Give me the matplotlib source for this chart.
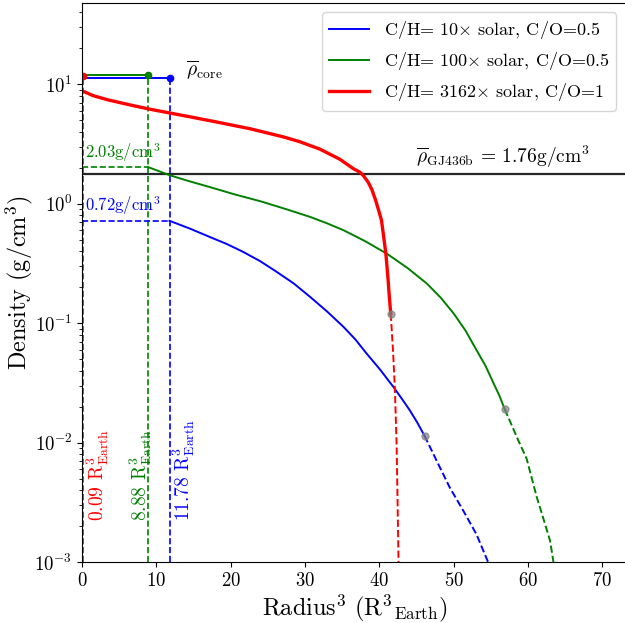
import numpy as np
import matplotlib
matplotlib.use("Agg")
import matplotlib.pyplot as plt

plt.rcParams["font.family"] = "serif"
plt.rcParams["font.serif"] = ["cmr10"]
plt.rcParams["mathtext.fontset"] = "cm"
plt.rcParams["axes.formatter.use_mathtext"] = True
plt.rcParams["axes.unicode_minus"] = False

# core: R^3 (R_earth^3) and mean core density (g/cm^3)
core_r3 = {"blue": 11.78, "green": 8.88, "red": 0.09}
core_rho = {"blue": 11.4, "green": 12.0, "red": 11.8}
# density at the core/envelope boundary
top_rho = {"blue": 0.72, "green": 2.03}
rho_gj436b = 1.76

# envelope profiles, solid part
blue_x = [11.78, 14.5, 17.2, 19.5, 21.7, 24.0, 26.2, 28.5, 30.7, 33.0, 35.2, 36.8,
          38.3, 40.1, 41.9, 43.0, 44.1, 45.1, 46.1]
blue_y = [0.72, 0.62, 0.527, 0.46, 0.395, 0.33, 0.269, 0.215, 0.166, 0.125, 0.093, 0.073,
          0.0557, 0.041, 0.0293, 0.0235, 0.0187, 0.0148, 0.0114]
green_x = [8.88, 11.84, 14.5, 17.2, 20.5, 24.0, 27.5, 30.7, 33.0, 35.2, 38.0, 41.0,
           43.8, 46.4, 48.3, 50.0, 51.6, 53.1, 54.3, 55.4, 56.2, 56.9]
green_y = [2.03, 1.73, 1.54, 1.38, 1.2, 1.05, 0.9, 0.776, 0.685, 0.60, 0.49, 0.383,
           0.29, 0.215, 0.163, 0.121, 0.087, 0.0594, 0.044, 0.0313, 0.0245, 0.019]
red_x = [0.09, 1.5, 3.5, 6.86, 9.15, 11.84, 14.5, 18.1, 22.6, 27.1, 29.3, 32.0, 34.7,
         36.5, 37.4, 37.9, 38.5, 39.0, 39.5, 39.9, 40.3, 40.55, 40.9, 41.2, 41.35, 41.55]
red_y = [8.79, 8.04, 7.41, 6.64, 6.19, 5.75, 5.35, 4.84, 4.25, 3.63, 3.31, 2.87, 2.36,
         1.97, 1.84, 1.71, 1.52, 1.32, 1.08, 0.89, 0.73, 0.56, 0.38, 0.23, 0.17, 0.12]

# extrapolated outer part (dashed)
blue_xd = [46.1, 47.8, 49.5, 51.3, 53.1, 54.65]
blue_yd = [0.0114, 0.0069, 0.0042, 0.0027, 0.0017, 0.001]
green_xd = [56.9, 58.7, 59.85, 61.2, 62.2, 63.0, 63.45]
green_yd = [0.019, 0.0105, 0.0073, 0.0035, 0.0022, 0.0015, 0.001]
red_xd = [41.55, 41.85, 42.1, 42.35, 42.6]
red_yd = [0.12, 0.06, 0.0293, 0.0092, 0.001]

labels = {"blue": r"C/H= 10$\times$ solar, C/O=0.5",
          "green": r"C/H= 100$\times$ solar, C/O=0.5",
          "red": r"C/H= 3162$\times$ solar, C/O=1"}

ymin, ymax = 1e-3, 48
xmax = 73.5

fig = plt.figure(figsize=(6.25, 6.23), dpi=100)
ax = fig.add_axes([0.1312, 0.0979, 0.8738, 0.8973])
ax.set_yscale("log")

ax.axhline(rho_gj436b, color="k", lw=1.6, alpha=0.85)

profiles = {"blue": (blue_x, blue_y, blue_xd, blue_yd, 1.4),
            "green": (green_x, green_y, green_xd, green_yd, 1.4),
            "red": (red_x, red_y, red_xd, red_yd, 2.4)}

for c in ["blue", "green", "red"]:
    x, y, xd, yd, lw = profiles[c]
    ax.plot(x, y, color=c, lw=lw, label=labels[c])
    ax.plot(xd, yd, color=c, lw=1.4, ls="--")
    ax.plot(x[-1], y[-1], "o", color="gray", ms=5, alpha=0.7)

    # core
    ax.plot([0, core_r3[c]], [core_rho[c], core_rho[c]], color=c, lw=1.4)
    ax.plot(core_r3[c], core_rho[c], "o", color=c, ms=4.5)
    ax.plot([core_r3[c], core_r3[c]], [ymin, core_rho[c]], color=c, lw=1.2, ls="--")

for c in ["blue", "green"]:
    ax.plot([0, core_r3[c]], [top_rho[c], top_rho[c]], color=c, lw=1.2, ls="--")
    ax.text(0.4, top_rho[c] * 1.07, "%.2fg/cm$^3$" % top_rho[c], color=c,
            fontsize=12, va="bottom", ha="left")

# core radius labels
r_text_x = {"red": 2.2, "green": 7.9, "blue": 13.7}
for c in ["red", "green", "blue"]:
    ax.text(r_text_x[c], 2.2e-3, r"%.2f R$^3_{\rm Earth}$" % core_r3[c], color=c,
            rotation=90, fontsize=14, ha="center", va="bottom")

ax.text(14.0, 13.1, r"$\overline{\rho}_{\rm core}$", fontsize=14, va="center")
ax.text(45.0, 1.9, r"$\overline{\rho}_{\rm GJ436b}$ = 1.76g/cm$^3$", fontsize=14,
        va="bottom")

ax.set_xlim(0, xmax)
ax.set_ylim(ymin, ymax)
ax.set_xlabel(r"Radius$^3$ (R$^3$$_{\rm Earth}$)", fontsize=17.5, labelpad=2)
ax.set_ylabel(r"Density (g/cm$^3$)", fontsize=17.5)
ax.yaxis.set_label_coords(-0.086, 0.5)
ax.tick_params(labelsize=13.5)

ax.legend(loc="upper right", bbox_to_anchor=(0.9856, 0.9807),
          bbox_transform=fig.transFigure, borderaxespad=0, fontsize=13,
          handlelength=2.2)

fig.savefig("out.png", dpi=100)
